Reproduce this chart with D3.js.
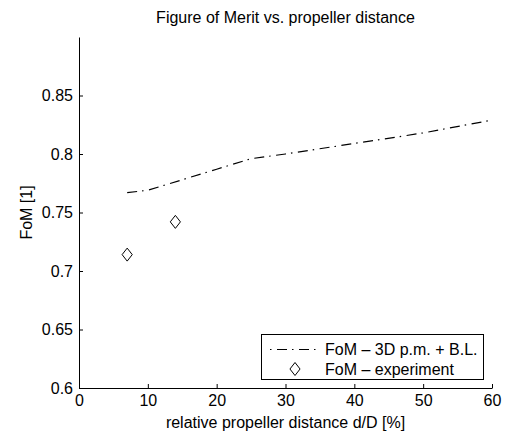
<!DOCTYPE html>
<html>
<head>
<meta charset="utf-8">
<script src="https://cdn.jsdelivr.net/npm/d3@7"></script>
<style>
  html, body { margin: 0; padding: 0; background: #fff; }
  svg { display: block; }
  text { font-family: "Liberation Sans", Arial, Helvetica, sans-serif; fill: #000; }
</style>
</head>
<body>
<svg id="chart" width="506" height="434"></svg>
<script>
// Simulation curve: FoM from 3D panel method with boundary layer
const simDistance = [7, 10, 15, 20, 25, 30, 40, 50, 60];
const simFoM      = [0.767, 0.769, 0.778, 0.787, 0.796, 0.800, 0.809, 0.818, 0.829];

// Measured FoM
const expDistance = [7, 14];
const expFoM      = [0.714, 0.742];

const xTicks = [0, 10, 20, 30, 40, 50, 60];
const yTicks = [0.6, 0.65, 0.7, 0.75, 0.8, 0.85];

const legendLabels = ["FoM \u2013 3D p.m. + B.L.", "FoM \u2013 experiment"];

const svg = d3.select("#chart");
const box = { left: 79, right: 492, top: 37, bottom: 388 };

const x = d3.scaleLinear().domain([0, 60]).range([box.left, box.right]);
const y = d3.scaleLinear().domain([0.6, 0.9]).range([box.bottom, box.top]);

// Axes (ticks point inward, no box on top/right)
const xAxis = d3.axisBottom(x).tickValues(xTicks).tickSizeInner(-4).tickSizeOuter(0)
  .tickPadding(7).tickFormat(d3.format("d"));
const yAxis = d3.axisLeft(y).tickValues(yTicks).tickSizeInner(-4).tickSizeOuter(0)
  .tickPadding(6).tickFormat(d => String(+d.toFixed(2)));

const gx = svg.append("g").attr("transform", `translate(0,${box.bottom})`).call(xAxis);
const gy = svg.append("g").attr("transform", `translate(${box.left},0)`).call(yAxis);

[gx, gy].forEach(g => {
  g.select(".domain").attr("stroke", "#000").attr("stroke-width", 1);
  g.selectAll(".tick line").attr("stroke", "#000");
  g.selectAll(".tick text").attr("font-size", 16).attr("fill", "#000")
    .style("font-family", "'Liberation Sans', Arial, sans-serif");
});

// Title and axis labels
svg.append("text").attr("x", (box.left + box.right) / 2).attr("y", 23)
  .attr("text-anchor", "middle").attr("font-size", 16)
  .text("Figure of Merit vs. propeller distance");

svg.append("text").attr("x", (box.left + box.right) / 2).attr("y", 428)
  .attr("text-anchor", "middle").attr("font-size", 16)
  .text("relative propeller distance d/D [%]");

svg.append("text")
  .attr("transform", `translate(32,${(box.top + box.bottom) / 2}) rotate(-90)`)
  .attr("text-anchor", "middle").attr("font-size", 16)
  .text("FoM [1]");

// Simulation line (dash-dot)
const dashDot = "10,5,1.5,5.5";
const line = d3.line().x((d, i) => x(simDistance[i])).y(d => y(d));
svg.append("path").datum(simFoM)
  .attr("d", line)
  .attr("fill", "none").attr("stroke", "#000").attr("stroke-width", 1.2)
  .attr("stroke-dasharray", dashDot);

// Diamond markers
const diamond = (cx, cy, r) =>
  `M${cx},${cy - r}L${cx + r * 0.78},${cy}L${cx},${cy + r}L${cx - r * 0.78},${cy}Z`;
svg.append("g").selectAll("path").data(expFoM).join("path")
  .attr("d", (d, i) => diamond(x(expDistance[i]), y(d), 6.5))
  .attr("fill", "none").attr("stroke", "#000").attr("stroke-width", 1);

// Legend
const lg = svg.append("g");
lg.append("rect").attr("x", 261.5).attr("y", 334.5).attr("width", 222).attr("height", 45)
  .attr("fill", "#fff").attr("stroke", "#000").attr("stroke-width", 1);
lg.append("line").attr("x1", 270).attr("x2", 320).attr("y1", 349.5).attr("y2", 349.5)
  .attr("stroke", "#000").attr("stroke-width", 1.2).attr("stroke-dasharray", "1.5,5.5,10,5");
lg.append("path").attr("d", diamond(295, 369, 6.5))
  .attr("fill", "none").attr("stroke", "#000").attr("stroke-width", 1);
lg.selectAll("text.lab").data(legendLabels).join("text").attr("class", "lab")
  .attr("x", 325).attr("y", (d, i) => 355 + i * 20)
  .attr("font-size", 16).text(d => d);
</script>
</body>
</html>
